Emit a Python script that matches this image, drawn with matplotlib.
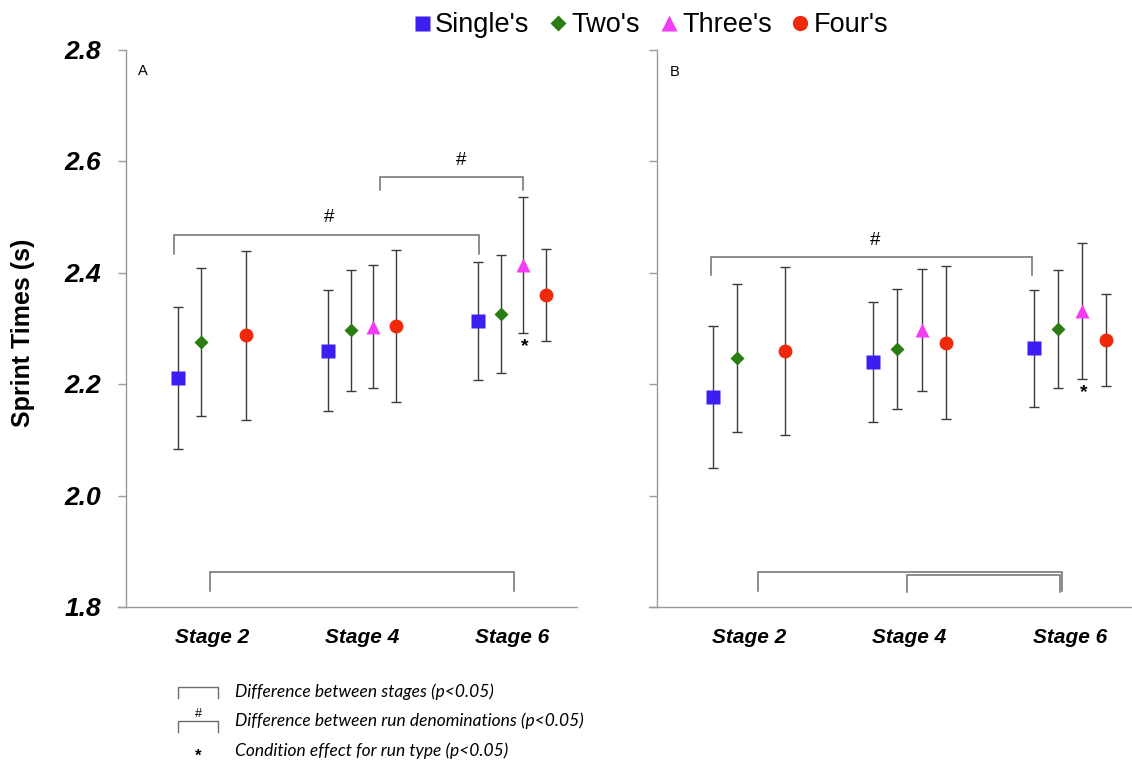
import numpy as np
import matplotlib
matplotlib.use("Agg")
import matplotlib.pyplot as plt
from matplotlib.lines import Line2D

# ---- data -------------------------------------------------------------
stages = ["Stage 2", "Stage 4", "Stage 6"]
series = ["Single's", "Two's", "Three's", "Four's"]
nan = np.nan

# Panel A: mean sprint times (s) and SD
single_a = [2.211, 2.260, 2.313]
two_a = [2.275, 2.296, 2.325]
three_a = [nan, 2.303, 2.413]
four_a = [2.287, 2.304, 2.360]
single_a_sd = [0.128, 0.109, 0.105]
two_a_sd = [0.133, 0.108, 0.106]
three_a_sd = [nan, 0.111, 0.122]
four_a_sd = [0.151, 0.137, 0.082]

# Panel B: mean sprint times (s) and SD
single_b = [2.177, 2.239, 2.264]
two_b = [2.247, 2.263, 2.298]
three_b = [nan, 2.297, 2.331]
four_b = [2.259, 2.274, 2.279]
single_b_sd = [0.127, 0.108, 0.105]
two_b_sd = [0.133, 0.108, 0.106]
three_b_sd = [nan, 0.110, 0.122]
four_b_sd = [0.150, 0.137, 0.082]

yticks = [1.8, 2.0, 2.2, 2.4, 2.6, 2.8]
ytick_labels = ["1.8", "2.0", "2.2", "2.4", "2.6", "2.8"]

# ---- style ------------------------------------------------------------
colors = ["#3b1ff2", "#2a7d12", "#f53cf5", "#f0290c"]
markers = ["s", "D", "^", "o"]
msizes = [9.6, 7.0, 10.0, 10.0]
key_sizes = [10.8, 8.2, 11.2, 11.0]
offsets = [-0.225, -0.075, 0.075, 0.225]
SANS = ["Liberation Sans", "DejaVu Sans"]
NOTE = ["Lato", "Open Sans", "DejaVu Sans"]
BRK = "#6e6e6e"

W, H = 1132, 762
fig = plt.figure(figsize=(W / 100, H / 100), dpi=100)


def px_axes(x0, x1, ytop, ybot):
    return fig.add_axes([x0 / W, 1 - ybot / H, (x1 - x0) / W, (ybot - ytop) / H])


# overlay in pixel coordinates for panel letters and the key below
ov = fig.add_axes([0, 0, 1, 1])
ov.set_xlim(0, W)
ov.set_ylim(H, 0)
ov.axis("off")
ov.patch.set_alpha(0)

panels = [
    dict(box=(118, 577), spine=125.5, c0=212.0, step=150.0, label="A", lab_xy=(143, 71),
         means=[single_a, two_a, three_a, four_a],
         sds=[single_a_sd, two_a_sd, three_a_sd, four_a_sd],
         show_y=True,
         # (x_left, x_right, y_bar, y_leg_left, y_leg_right, text)
         brackets=[(-0.253, 1.78, 2.468, 2.434, 2.434, "#"),
                   (1.12, 2.075, 2.571, 2.548, 2.548, "#"),
                   (-0.013, 2.015, 1.862, 1.829, 1.829, "")],
         stars=[(2, 2)]),
    dict(box=(649, 1131), spine=656.5, c0=749.0, step=160.5, label="B", lab_xy=(675, 72),
         means=[single_b, two_b, three_b, four_b],
         sds=[single_b_sd, two_b_sd, three_b_sd, four_b_sd],
         show_y=False,
         brackets=[(-0.239, 1.765, 2.428, 2.396, 2.396, "#"),
                   (0.056, 1.952, 1.862, 1.829, 1.829, ""),
                   (0.984, 1.938, 1.857, 1.827, 1.827, "")],
         stars=[(2, 2)]),
]

for p in panels:
    x0, x1 = p["box"]
    ax = px_axes(x0, x1, 49.5, 607)
    ax.set_xlim((x0 - p["c0"]) / p["step"], (x1 - p["c0"]) / p["step"])
    ax.set_ylim(1.8, 2.8)
    ax.patch.set_alpha(0)
    for s in ("top", "right"):
        ax.spines[s].set_visible(False)
    for s in ("left", "bottom"):
        ax.spines[s].set_color("#9a9a9a")
        ax.spines[s].set_linewidth(1.0)
    ax.spines["left"].set_position(("data", (p["spine"] - p["c0"]) / p["step"]))
    ax.spines["left"].set_bounds(1.8, 2.8)

    ax.set_yticks(yticks)
    if p["show_y"]:
        ax.set_yticklabels(ytick_labels, fontsize=19, fontweight="bold",
                           fontstyle="italic", family=SANS)
    else:
        ax.set_yticklabels([])
    ax.tick_params(axis="y", direction="out", length=5.5, width=1.0,
                   color="#9a9a9a", pad=12)
    ax.set_xticks(range(len(stages)))
    ax.set_xticklabels(stages, fontsize=15, fontweight="bold",
                       fontstyle="italic", family=SANS)
    ax.tick_params(axis="x", length=0, pad=15)

    xs = np.arange(len(stages))
    for i in range(len(series)):
        xi = xs + offsets[i]
        ax.errorbar(xi, p["means"][i], yerr=p["sds"][i], fmt="none",
                    ecolor="#3a3a3a", elinewidth=1.0, capsize=3.3,
                    capthick=1.0, zorder=2)
        ax.plot(xi, p["means"][i], linestyle="none", marker=markers[i],
                ms=msizes[i], color=colors[i], mec="none", zorder=3)

    for (xl, xr, yb, yll, ylr, txt) in p["brackets"]:
        ax.plot([xl, xl, xr, xr], [yll, yb, yb, ylr], color=BRK, lw=1.1,
                zorder=1, solid_joinstyle="miter")
        if txt:
            ax.text((xl + xr) / 2 + (0.06 if xl > 1 else 0.02), yb + 0.03, txt,
                    ha="center", va="center", fontsize=13.5, family=SANS)

    for (si, st) in p["stars"]:
        xst = st + offsets[si] + 0.01
        ylo = p["means"][si][st] - p["sds"][si][st]
        ax.annotate("*", xy=(xst, ylo), xytext=(0, -9.5),
                    textcoords="offset points", ha="center", va="center",
                    fontsize=14, fontweight="bold", family=SANS)

    ov.text(p["lab_xy"][0], p["lab_xy"][1], p["label"], ha="center",
            va="center", fontsize=10.5, family=SANS)

# y-axis title
fig.text(23 / W, 1 - 333 / H, "Sprint Times (s)", rotation=90, ha="center",
         va="center", fontsize=18, fontweight="bold", family=SANS)

# series key
handles = [Line2D([], [], linestyle="none", marker=markers[i], color=colors[i],
                  mec="none", ms=key_sizes[i]) for i in range(len(series))]
fig.legend(handles, series, loc="center", bbox_to_anchor=(651 / W, 1 - 25 / H),
           ncol=4, frameon=False, handlelength=0.6, handletextpad=0.2,
           columnspacing=0.75, borderpad=0, borderaxespad=0,
           prop=dict(family=SANS, size=19.5))

# significance key
kx0, kx1, ktx = 178, 218, 235
ov.plot([kx0, kx0, kx1, kx1], [698, 687, 687, 698], color=BRK, lw=1.0)
ov.text(ktx, 692, "Difference between stages (p<0.05)", ha="left", va="center",
        fontsize=12.5, fontstyle="italic", family=NOTE)
ov.plot([kx0, kx0, kx1, kx1], [732, 721, 721, 732], color=BRK, lw=1.0)
ov.text((kx0 + kx1) / 2, 714, "#", ha="center", va="center", fontsize=9,
        family=SANS)
ov.text(ktx, 721, "Difference between run denominations (p<0.05)", ha="left",
        va="center", fontsize=12.5, fontstyle="italic", family=NOTE)
ov.text((kx0 + kx1) / 2, 756, "*", ha="center", va="center", fontsize=12,
        fontweight="bold", family=SANS)
ov.text(ktx, 751, "Condition effect for run type (p<0.05)", ha="left",
        va="center", fontsize=12.5, fontstyle="italic", family=NOTE)

fig.savefig("out.png", dpi=100, facecolor="white")
